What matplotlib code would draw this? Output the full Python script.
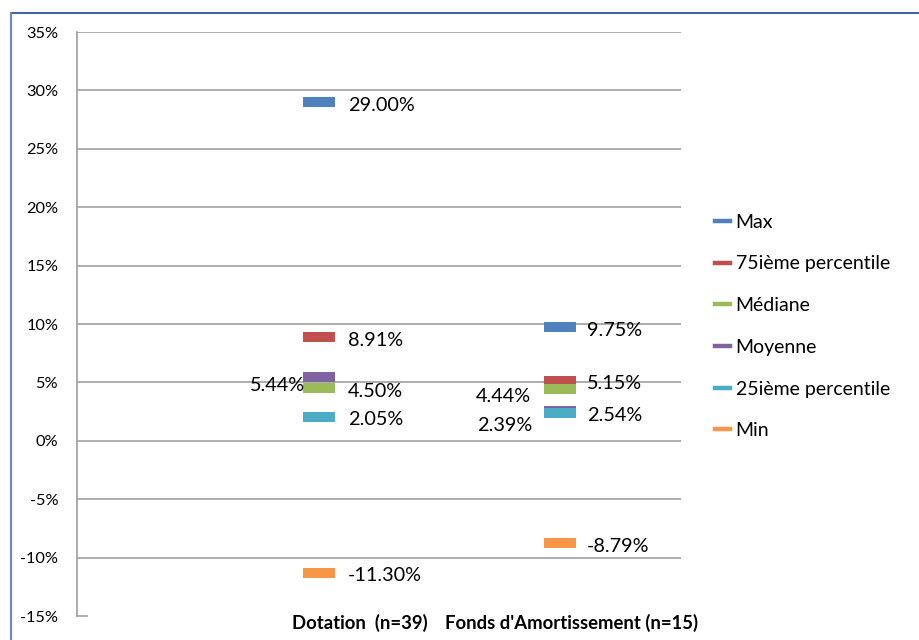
import matplotlib
matplotlib.use("Agg")
import matplotlib.pyplot as plt
from matplotlib.path import Path
from matplotlib.lines import Line2D
from matplotlib.transforms import blended_transform_factory

plt.rcParams['font.family'] = ['Lato', 'DejaVu Sans']

categories = ["Dotation  (n=39)", "Fonds d'Amortissement (n=15)"]
series_names = ["Max", "75ième percentile", "Médiane", "Moyenne", "25ième percentile", "Min"]
max_vals = [29.00, 9.75]
p75_vals = [8.91, 5.15]
median_vals = [4.50, 4.44]
mean_vals = [5.44, 2.54]
p25_vals = [2.05, 2.39]
min_vals = [-11.30, -8.79]
y_ticks = [-15, -10, -5, 0, 5, 10, 15, 20, 25, 30, 35]

all_series = [max_vals, p75_vals, median_vals, mean_vals, p25_vals, min_vals]
colors = ["#4F81BD", "#C0504D", "#9BBB59", "#8064A2", "#4BACC6", "#F79646"]

# label offsets in pixels (dx, dy) and alignment per series per category
label_style = [
    [(29, -3, 'left'), (27, -4, 'left')],
    [(29, -4, 'left'), (27, -3, 'left')],
    [(29, -3, 'left'), (-29, -8, 'right')],
    [(-14, -8.5, 'right'), (27, -4, 'left')],
    [(29, -3, 'left'), (-28, -13, 'right')],
    [(29, -3, 'left'), (27, -3, 'left')],
]

W, H = 920, 640
fig = plt.figure(figsize=(9.2, 6.4), dpi=100)
ax = fig.add_axes([77 / W, (H - 616) / H, (681 - 77) / W, (616 - 32) / H])

rect = Path([(-1, -0.29), (1, -0.29), (1, 0.29), (-1, 0.29), (-1, -0.29)],
            [Path.MOVETO, Path.LINETO, Path.LINETO, Path.LINETO, Path.CLOSEPOLY])

xs = [1, 2]
for vals, col, styles in zip(all_series, colors, label_style):
    ax.plot(xs, vals, linestyle='none', marker=rect, markersize=22.5,
            markerfacecolor=col, markeredgewidth=0, zorder=3)
    for x, v, (dx, dy, ha) in zip(xs, vals, styles):
        ax.annotate(f"{v:.2f}%", (x, v), xytext=(dx, dy), textcoords='offset pixels',
                    ha=ha, va='center', fontsize=14.3, color='black')

ax.set_xlim(0, 2.5)
ax.set_ylim(-15, 35)
ax.set_yticks(y_ticks)
ax.set_yticklabels([f"{t}%" for t in y_ticks], fontsize=11.8)
ax.set_xticks([])
ax.tick_params(axis='y', length=0, pad=13.5)
for t in y_ticks[1:]:
    ax.axhline(t, color='#A6A6A6', lw=1.3, zorder=1)
for s in ['top', 'right', 'bottom']:
    ax.spines[s].set_visible(False)
ax.spines['left'].set_color('#A6A6A6')
ax.spines['left'].set_linewidth(1.3)
ax.plot([0, 0.04], [-15, -15], color='#A6A6A6', lw=1.3, clip_on=False)

cat_offsets = [0.17, 0.045]
trans = blended_transform_factory(ax.transData, fig.transFigure)
for x, c, off in zip(xs, categories, cat_offsets):
    ax.text(x + off, (H - 623) / H, c, transform=trans, ha='center', va='center',
            fontsize=13.3, fontweight='bold')

handles = [Line2D([], [], color=c, lw=3.2) for c in colors]
fig.legend(handles, series_names, loc='center left', bbox_to_anchor=(715 / W, (H - 326.5) / H),
           frameon=False, fontsize=14, handlelength=0.78, handletextpad=0.28,
           labelspacing=1.27, borderpad=0, borderaxespad=0)

fig.add_artist(Line2D([11 / W, 1], [(H - 12.5) / H, (H - 12.5) / H], color='#4463AE', lw=1.5))
fig.add_artist(Line2D([11 / W, 11 / W], [0, (H - 12.5) / H], color='#6F84BE', lw=1.5))

fig.savefig("out.png", dpi=100)
